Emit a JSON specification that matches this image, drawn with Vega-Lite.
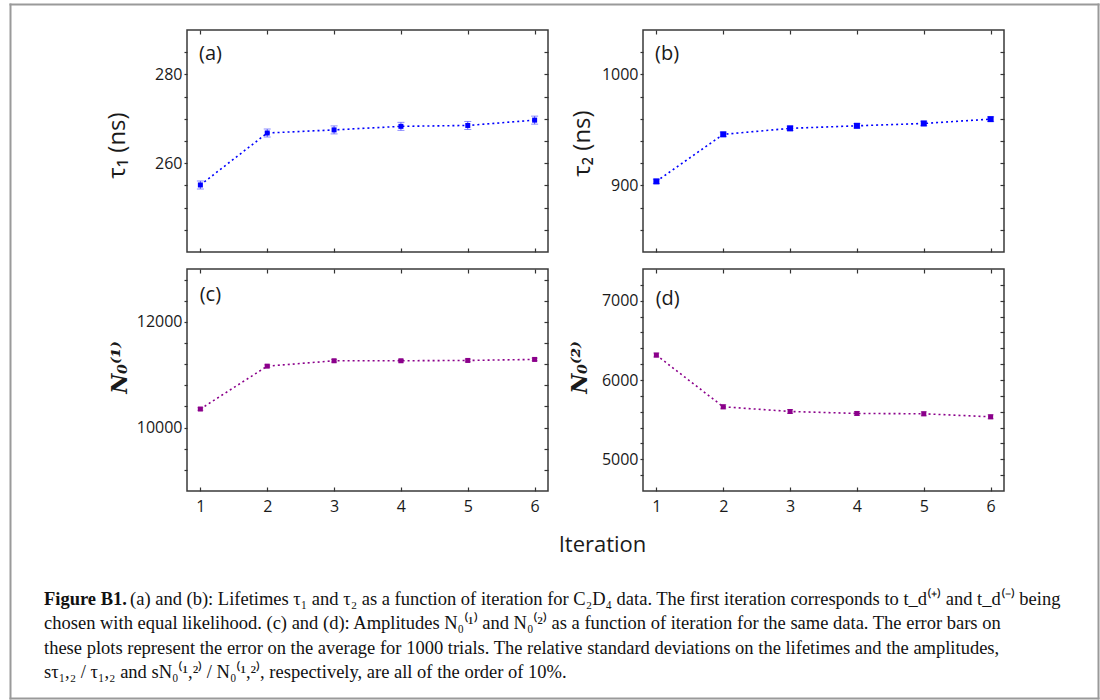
{
  "$schema": "https://vega.github.io/schema/vega-lite/v6.json",
  "padding": {"left": 8, "top": 2, "right": 0, "bottom": 0},
  "background": "white",
  "config": {
    "view": {"stroke": "#3a3a3a", "strokeWidth": 1.5},
    "axis": {
      "grid": false, "domain": false, "tickColor": "#333", "tickWidth": 1.2,
      "labelFont": "Open Sans", "labelFontSize": 16, "labelColor": "#1a1a1a",
      "titleFont": "Open Sans", "titleFontSize": 24, "titleFontWeight": "normal", "titleColor": "#1a1a1a"
    },
    "text": {"font": "Open Sans", "fontSize": 20, "color": "#1a1a1a"}
  },
  "datasets": {
    "tau1": [
      {"iter": 1, "v": 255.1, "e": 0.9}, {"iter": 2, "v": 266.8, "e": 0.9}, {"iter": 3, "v": 267.5, "e": 0.9},
      {"iter": 4, "v": 268.3, "e": 0.9}, {"iter": 5, "v": 268.5, "e": 0.9}, {"iter": 6, "v": 269.7, "e": 0.9}
    ],
    "tau2": [
      {"iter": 1, "v": 903.6, "e": 2}, {"iter": 2, "v": 946.0, "e": 2}, {"iter": 3, "v": 951.4, "e": 2},
      {"iter": 4, "v": 953.7, "e": 2}, {"iter": 5, "v": 955.8, "e": 2}, {"iter": 6, "v": 959.7, "e": 2}
    ],
    "n1": [
      {"iter": 1, "v": 10351, "e": 25}, {"iter": 2, "v": 11162, "e": 25}, {"iter": 3, "v": 11264, "e": 25},
      {"iter": 4, "v": 11264, "e": 25}, {"iter": 5, "v": 11270, "e": 25}, {"iter": 6, "v": 11289, "e": 25}
    ],
    "n2": [
      {"iter": 1, "v": 6314, "e": 25}, {"iter": 2, "v": 5662, "e": 25}, {"iter": 3, "v": 5603, "e": 25},
      {"iter": 4, "v": 5578, "e": 25}, {"iter": 5, "v": 5574, "e": 25}, {"iter": 6, "v": 5536, "e": 25}
    ],
    "caption": [
      {"line": 1, "lead": "Figure B1.", "text": "(a) and (b): Lifetimes τ₁ and τ₂ as a function of iteration for C₂D₄ data. The first iteration corresponds to t_d⁽⁺⁾ and t_d⁽⁻⁾ being"},
      {"line": 2, "lead": "", "text": "chosen with equal likelihood. (c) and (d): Amplitudes N₀⁽¹⁾ and N₀⁽²⁾ as a function of iteration for the same data. The error bars on"},
      {"line": 3, "lead": "", "text": "these plots represent the error on the average for 1000 trials. The relative standard deviations on the lifetimes and the amplitudes,"},
      {"line": 4, "lead": "", "text": "sτ₁,₂ / τ₁,₂ and sN₀⁽¹,²⁾ / N₀⁽¹,²⁾, respectively, are all of the order of 10%."}
    ]
  },
  "columns": 2,
  "align": "each",
  "bounds": "flush",
  "spacing": {"row": 17, "column": 95},
  "concat": [
    {
      "width": 361, "height": 222,
      "data": {"name": "tau1"},
      "resolve": {"axis": {"x": "independent", "y": "independent"}},
      "layer": [
        {
          "mark": {"type": "line", "color": "#0000ff", "strokeDash": [2, 3], "strokeWidth": 1.6},
          "encoding": {
            "x": {"field": "iter", "type": "quantitative", "scale": {"domain": [0.8, 6.2], "nice": false, "zero": false},
              "axis": {"orient": "bottom", "values": [1, 2, 3, 4, 5, 6], "tickSize": -4, "labels": false, "title": null}},
            "y": {"field": "v", "type": "quantitative", "scale": {"domain": [240, 290], "nice": false, "zero": false},
              "axis": {"orient": "left", "values": [245, 250, 255, 260, 265, 270, 275, 280, 285], "tickSize": 3, "labelPadding": 2, "format": "d",
                "labelExpr": "datum.value % 20 === 0 ? datum.label : ''", "title": "τ₁ (ns)", "minExtent": 54, "maxExtent": 54, "titlePadding": 4, "titleY": 115}}
          }
        },
        {
          "mark": {"type": "errorbar", "ticks": {"size": 7}, "color": "#5a5aff"},
          "encoding": {
            "x": {"field": "iter", "type": "quantitative", "axis": null},
            "y": {"field": "v", "type": "quantitative", "axis": null},
            "yError": {"field": "e"}
          }
        },
        {
          "mark": {"type": "square", "color": "#0000ff", "opacity": 1, "size": 25},
          "encoding": {
            "x": {"field": "iter", "type": "quantitative",
              "axis": {"orient": "top", "values": [1, 2, 3, 4, 5, 6], "tickSize": -4, "labels": false, "title": null}},
            "y": {"field": "v", "type": "quantitative",
              "axis": {"orient": "right", "values": [245, 250, 255, 260, 265, 270, 275, 280, 285], "tickSize": -4, "labels": false, "title": null}}
          }
        },
        {
          "data": {"values": [{"panel": "(a)"}]},
          "mark": {"type": "text", "align": "left", "baseline": "middle"},
          "encoding": {
            "x": {"datum": 0.98, "type": "quantitative", "axis": null},
            "y": {"datum": 284.6, "type": "quantitative", "axis": null},
            "text": {"field": "panel"}
          }
        }
      ]
    },
    {
      "width": 361, "height": 222,
      "data": {"name": "tau2"},
      "resolve": {"axis": {"x": "independent", "y": "independent"}},
      "layer": [
        {
          "mark": {"type": "line", "color": "#0000ff", "strokeDash": [2, 3], "strokeWidth": 1.6},
          "encoding": {
            "x": {"field": "iter", "type": "quantitative", "scale": {"domain": [0.8, 6.2], "nice": false, "zero": false},
              "axis": {"orient": "bottom", "values": [1, 2, 3, 4, 5, 6], "tickSize": -4, "labels": false, "title": null}},
            "y": {"field": "v", "type": "quantitative", "scale": {"domain": [840, 1040], "nice": false, "zero": false},
              "axis": {"orient": "left", "values": [860, 880, 900, 920, 940, 960, 980, 1000, 1020], "tickSize": 3, "labelPadding": 2, "format": "d",
                "labelExpr": "datum.value % 100 === 0 ? datum.label : ''", "title": "τ₂ (ns)", "minExtent": 46, "maxExtent": 46, "titlePadding": 3, "titleY": 113}}
          }
        },
        {
          "mark": {"type": "errorbar", "ticks": {"size": 7}, "color": "#5a5aff"},
          "encoding": {
            "x": {"field": "iter", "type": "quantitative", "axis": null},
            "y": {"field": "v", "type": "quantitative", "axis": null},
            "yError": {"field": "e"}
          }
        },
        {
          "mark": {"type": "square", "color": "#0000ff", "opacity": 1, "size": 36},
          "encoding": {
            "x": {"field": "iter", "type": "quantitative",
              "axis": {"orient": "top", "values": [1, 2, 3, 4, 5, 6], "tickSize": -4, "labels": false, "title": null}},
            "y": {"field": "v", "type": "quantitative",
              "axis": {"orient": "right", "values": [860, 880, 900, 920, 940, 960, 980, 1000, 1020], "tickSize": -4, "labels": false, "title": null}}
          }
        },
        {
          "data": {"values": [{"panel": "(b)"}]},
          "mark": {"type": "text", "align": "left", "baseline": "middle"},
          "encoding": {
            "x": {"datum": 0.98, "type": "quantitative", "axis": null},
            "y": {"datum": 1018, "type": "quantitative", "axis": null},
            "text": {"field": "panel"}
          }
        }
      ]
    },
    {
      "width": 361, "height": 222,
      "data": {"name": "n1"},
      "resolve": {"axis": {"x": "independent", "y": "independent"}},
      "layer": [
        {
          "mark": {"type": "line", "color": "#8b008b", "strokeDash": [2, 3], "strokeWidth": 1.6},
          "encoding": {
            "x": {"field": "iter", "type": "quantitative", "scale": {"domain": [0.8, 6.2], "nice": false, "zero": false},
              "axis": {"orient": "bottom", "values": [1, 2, 3, 4, 5, 6], "tickSize": -4, "labelPadding": 11, "format": "d",
                "title": "Iteration", "titleX": 415, "titleY": 53, "titleBaseline": "middle", "titleAlign": "center", "titleFontSize": 22}},
            "y": {"field": "v", "type": "quantitative", "scale": {"domain": [8800, 13000], "nice": false, "zero": false},
              "axis": {"orient": "left", "values": [9200, 9600, 10000, 10400, 10800, 11200, 11600, 12000, 12400, 12800], "tickSize": 3, "labelPadding": 2, "format": "d",
                "labelExpr": "datum.value % 2000 === 0 ? datum.label : ''", "title": "N₀⁽¹⁾", "titleFont": "DejaVu Serif", "titleFontStyle": "italic", "titleFontWeight": "bold", "titleFontSize": 22,
                "minExtent": 54, "maxExtent": 54, "titlePadding": 2, "titleY": 98}}
          }
        },
        {
          "mark": {"type": "errorbar", "ticks": {"size": 6}, "color": "#a040a0"},
          "encoding": {
            "x": {"field": "iter", "type": "quantitative", "axis": null},
            "y": {"field": "v", "type": "quantitative", "axis": null},
            "yError": {"field": "e"}
          }
        },
        {
          "mark": {"type": "square", "color": "#8b008b", "opacity": 1, "size": 25},
          "encoding": {
            "x": {"field": "iter", "type": "quantitative",
              "axis": {"orient": "top", "values": [1, 2, 3, 4, 5, 6], "tickSize": -4, "labels": false, "title": null}},
            "y": {"field": "v", "type": "quantitative",
              "axis": {"orient": "right", "values": [9200, 9600, 10000, 10400, 10800, 11200, 11600, 12000, 12400, 12800], "tickSize": -4, "labels": false, "title": null}}
          }
        },
        {
          "data": {"values": [{"panel": "(c)"}]},
          "mark": {"type": "text", "align": "left", "baseline": "middle"},
          "encoding": {
            "x": {"datum": 0.99, "type": "quantitative", "axis": null},
            "y": {"datum": 12509, "type": "quantitative", "axis": null},
            "text": {"field": "panel"}
          }
        }
      ]
    },
    {
      "width": 361, "height": 222,
      "data": {"name": "n2"},
      "resolve": {"axis": {"x": "independent", "y": "independent"}},
      "layer": [
        {
          "mark": {"type": "line", "color": "#8b008b", "strokeDash": [2, 3], "strokeWidth": 1.6},
          "encoding": {
            "x": {"field": "iter", "type": "quantitative", "scale": {"domain": [0.8, 6.2], "nice": false, "zero": false},
              "axis": {"orient": "bottom", "values": [1, 2, 3, 4, 5, 6], "tickSize": -4, "labelPadding": 11, "format": "d", "title": null}},
            "y": {"field": "v", "type": "quantitative", "scale": {"domain": [4600, 7400], "nice": false, "zero": false},
              "axis": {"orient": "left", "values": [4800, 5000, 5200, 5400, 5600, 5800, 6000, 6200, 6400, 6600, 6800, 7000, 7200], "tickSize": 3, "labelPadding": 2, "format": "d",
                "labelExpr": "datum.value % 1000 === 0 ? datum.label : ''", "title": "N₀⁽²⁾", "titleFont": "DejaVu Serif", "titleFontStyle": "italic", "titleFontWeight": "bold", "titleFontSize": 22,
                "minExtent": 46, "maxExtent": 46, "titlePadding": 6, "titleY": 98}}
          }
        },
        {
          "mark": {"type": "errorbar", "ticks": {"size": 6}, "color": "#a040a0"},
          "encoding": {
            "x": {"field": "iter", "type": "quantitative", "axis": null},
            "y": {"field": "v", "type": "quantitative", "axis": null},
            "yError": {"field": "e"}
          }
        },
        {
          "mark": {"type": "square", "color": "#8b008b", "opacity": 1, "size": 25},
          "encoding": {
            "x": {"field": "iter", "type": "quantitative",
              "axis": {"orient": "top", "values": [1, 2, 3, 4, 5, 6], "tickSize": -4, "labels": false, "title": null}},
            "y": {"field": "v", "type": "quantitative",
              "axis": {"orient": "right", "values": [4800, 5000, 5200, 5400, 5600, 5800, 6000, 6200, 6400, 6600, 6800, 7000, 7200], "tickSize": -4, "labels": false, "title": null}}
          }
        },
        {
          "data": {"values": [{"panel": "(d)"}]},
          "mark": {"type": "text", "align": "left", "baseline": "middle"},
          "encoding": {
            "x": {"datum": 0.99, "type": "quantitative", "axis": null},
            "y": {"datum": 7021, "type": "quantitative", "axis": null},
            "text": {"field": "panel"}
          }
        }
      ]
    },
    {
      "width": 361, "height": 190,
      "view": {"stroke": null},
      "data": {"name": "caption"},
      "resolve": {"axis": {"x": "independent", "y": "independent"}},
      "layer": [
        {
          "transform": [{"filter": "datum.line === 1"}],
          "mark": {"type": "text", "align": "left", "baseline": "middle", "font": "Liberation Serif", "fontSize": 18.5, "fontWeight": "bold", "color": "#111"},
          "encoding": {
            "x": {"datum": -0.3961, "type": "quantitative", "scale": {"domain": [0, 1], "nice": false, "zero": false},
              "axis": {"orient": "bottom", "position": -177, "values": [0], "tickSize": -694, "tickWidth": 2, "tickColor": "#9a9a9a", "tickCap": "square", "labels": false, "title": null}},
            "y": {"field": "line", "type": "quantitative", "scale": {"domain": [-2.714, 5.041], "reverse": true, "nice": false, "zero": false},
              "axis": {"orient": "left", "offset": 177, "position": -504, "values": [-2.714], "tickSize": -1088, "tickWidth": 2, "tickColor": "#9a9a9a", "tickCap": "square", "labels": false, "title": null}},
            "text": {"field": "lead"}
          }
        },
        {
          "transform": [{"filter": "datum.line === 1"}],
          "mark": {"type": "text", "align": "left", "baseline": "middle", "font": "Liberation Serif", "fontSize": 18.5, "color": "#111", "dx": 86},
          "encoding": {
            "x": {"datum": -0.3961, "type": "quantitative",
              "axis": {"orient": "bottom", "position": 550, "values": [1], "tickSize": -694, "tickWidth": 2, "tickColor": "#9a9a9a", "tickCap": "square", "labels": false, "title": null}},
            "y": {"field": "line", "type": "quantitative",
              "axis": {"orient": "left", "offset": 177, "position": 0, "values": [5.041], "tickSize": -1088, "tickWidth": 2, "tickColor": "#9a9a9a", "tickCap": "square", "labels": false, "title": null}},
            "text": {"field": "text"}
          }
        },
        {
          "transform": [{"filter": "datum.line > 1"}],
          "mark": {"type": "text", "align": "left", "baseline": "middle", "font": "Liberation Serif", "fontSize": 18.5, "color": "#111"},
          "encoding": {
            "x": {"datum": -0.3961, "type": "quantitative", "axis": null},
            "y": {"field": "line", "type": "quantitative", "axis": null},
            "text": {"field": "text"}
          }
        }
      ]
    }
  ]
}
